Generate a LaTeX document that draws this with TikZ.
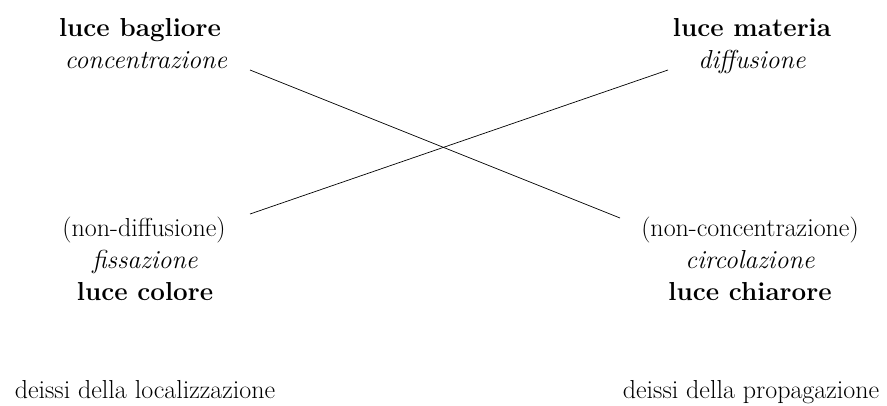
\documentclass[tikz,border=0pt]{standalone}
\begin{document}
\begin{tikzpicture}[x=1pt,y=-1pt,
  lbl/.style={inner sep=0pt,anchor=base,font=\fontsize{26}{30}\selectfont},
  strong/.style={lbl,font=\fontsize{26}{30}\selectfont\bfseries},
  slant/.style={lbl,font=\fontsize{26}{30}\selectfont\itshape},
  link/.style={line width=0.7pt}]
\useasboundingbox (0,0) rectangle (887,405);
% upper left
\node[strong] (tl1) at (140,36) {luce bagliore};
\node[slant]  (tl2) at (146,68) {concentrazione};
% upper right
\node[strong] (tr1) at (752,36) {luce materia};
\node[slant]  (tr2) at (752,68) {diffusione};
% lower left
\node[lbl]    (bl1) at (144,236) {(non-diffusione)};
\node[slant]  (bl2) at (145,268) {fissazione};
\node[strong] (bl3) at (145,300) {luce colore};
% lower right
\node[lbl]    (br1) at (750,236) {(non-concentrazione)};
\node[slant]  (br2) at (750,268) {circolazione};
\node[strong] (br3) at (750,300) {luce chiarore};
% captions
\node[lbl] (cl) at (145,398) {deissi della localizzazione};
\node[lbl] (cr) at (751,398) {deissi della propagazione};
% crossing lines
\coordinate (a1) at (250,70);
\coordinate (a2) at (620,218);
\coordinate (b1) at (250,214);
\coordinate (b2) at (668,70);
\draw[link] (a1) -- (a2);
\draw[link] (b1) -- (b2);
\end{tikzpicture}
\end{document}
